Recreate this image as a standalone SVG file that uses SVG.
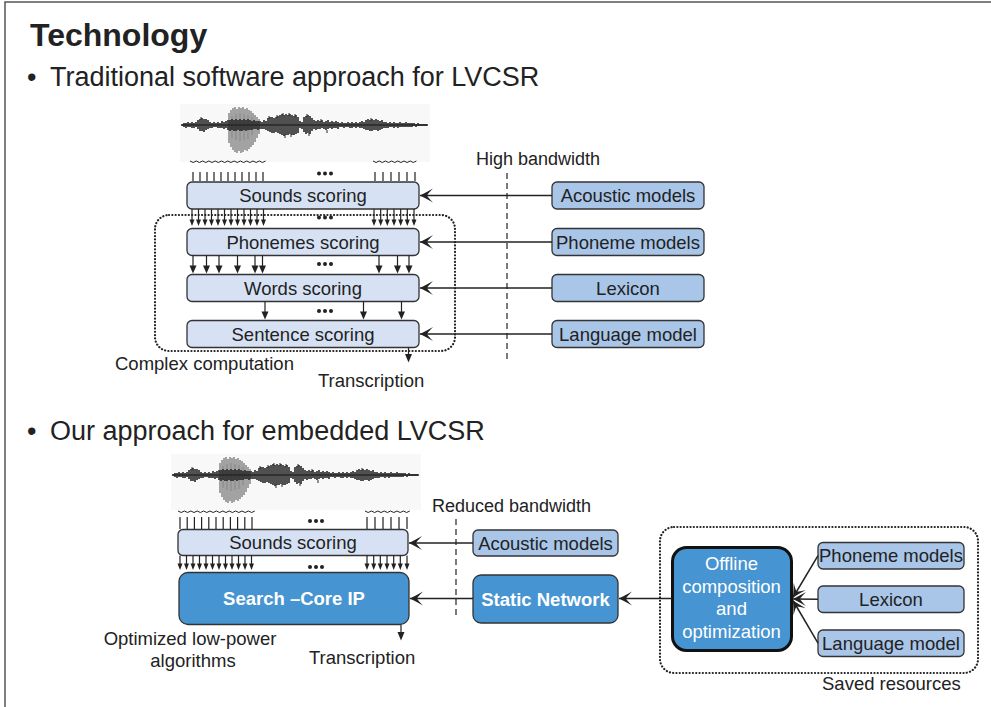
<svg xmlns="http://www.w3.org/2000/svg" width="991" height="707" viewBox="0 0 991 707">
<style>
  text { font-family: "Liberation Sans", Arial, sans-serif; fill: #222; }
  .lbl { font-size: 18.5px; text-anchor: middle; }
  .note { font-size: 18.5px; }
  .lite rect { fill: #d6e2f4; stroke: #333; stroke-width: 1.3; }
  .mid rect { fill: #a9c6e9; stroke: #333; stroke-width: 1.3; }
  .dark rect { fill: #4694d1; stroke: #333; stroke-width: 1.3; }
  .dark text { fill: #fff; }
  .bold { font-weight: bold; }
  .conn { stroke: #222; stroke-width: 1.5; fill: none; }
  .stem { stroke: #222; stroke-width: 1.2; fill: none; }
  .head { fill: #222; stroke: none; }
  .wavy { stroke: #222; stroke-width: 1; fill: none; }
  .dotbox { fill: none; stroke: #222; stroke-width: 2.2; stroke-dasharray: 0.1 3.2; stroke-linecap: round; }
  .dash { stroke: #222; stroke-width: 1.2; stroke-dasharray: 6 4; }
  .dots circle { fill: #222; }
</style>
<defs>
  <marker id="barb" markerUnits="userSpaceOnUse" viewBox="-15 -8 16 16" refX="0" refY="0" markerWidth="16" markerHeight="16" orient="auto">
    <path d="M0,0 Q-6,-3 -13,-7 Q-8,-2 -7,0 Q-8,2 -13,7 Q-6,3 0,0 Z" fill="#222"/>
  </marker>
  <!-- speech waveform, drawn around a horizontal centre line at y=0 -->
  <g id="wave">
    <path d="M50,-9v22M54,-11v26M58,-12v28M62,-11v26M66,-10v24M70,-8v18" stroke="#b0b0b0" stroke-width="0.7" fill="none"/>
    <path d="M47,-12v30M49,-15v37M51,-17v42M53,-18v45M55,-16v44M57,-18v44M59,-17v45M61,-18v45M63,-16v41M65,-17v43M67,-15v39M69,-14v36M71,-12v32M73,-10v27M75,-8v21M77,-6v15" stroke="#3a3a3a" stroke-width="0.9" fill="none"/>
    <path d="M0,0H246" stroke="#2b2b2b" stroke-width="1.5"/>
    <path d="M0,-1v2M2,-2v4M4,-2v5M6,-3v5M8,-2v4M10,-3v6M12,-2v5M14,-3v5M16,-5v9M18,-6v12M20,-7v13M22,-6v13M24,-6v11M26,-5v9M28,-3v6M30,-2v5M32,-3v5M34,-2v4M36,-3v6M38,-2v5M40,-4v7M42,-3v7M44,-4v7M46,-5v10M48,-5v11M50,-6v11M52,-5v11M54,-6v12M56,-5v10M58,-6v12M60,-5v11M62,-6v11M64,-5v11M66,-6v11M68,-5v10M70,-4v9M72,-5v9M74,-4v8M76,-4v9M78,-4v8M80,-3v7M82,-5v9M84,-4v9M86,-7v13M88,-8v15M90,-8v16M92,-7v15M94,-8v15M96,-9v17M98,-10v19M100,-11v21M102,-10v21M104,-11v21M106,-10v20M108,-11v20M110,-10v20M112,-9v19M114,-10v19M116,-8v16M118,-4v7M120,-3v7M122,-8v15M124,-9v18M126,-10v18M128,-9v18M130,-7v13M132,-5v9M134,-4v9M136,-5v9M138,-4v8M140,-5v8M142,-3v7M144,-4v9M146,-5v9M148,-3v6M150,-4v8M152,-3v6M154,-4v7M156,-3v7M158,-2v4M160,-3v5M162,-2v5M164,-2v4M166,-3v5M168,-2v5M170,-3v6M172,-2v4M174,-3v6M176,-2v4M178,-3v6M180,-4v7M182,-3v7M184,-5v10M186,-6v11M188,-5v11M190,-6v12M192,-5v10M194,-6v11M196,-5v11M198,-4v9M200,-5v9M202,-3v6M204,-3v6M206,-2v5M208,-3v5M210,-2v4M212,-3v6M214,-2v4M216,-2v5M218,-3v5M220,-2v4M222,-2v4M224,-3v5M226,-2v4M228,-2v4M230,-2v4M232,-2v3M234,-1v3M236,-2v3M238,-1v2M240,-1v2M242,-1v2M244,-1v2" stroke="#262626" stroke-width="1.6" fill="none"/>
    <path d="M87,-9v3M95,-10v3M101,-12v3M107,-12v3M113,-11v3M125,-11v3M103,9v4M109,9v3M127,8v3M19,-8v3M189,-7v3M139,-6v3M145,5v3" stroke="#262626" stroke-width="1" fill="none"/>
  </g>
</defs>

<rect width="991" height="707" fill="#fff"/>
<!-- slide frame edges -->
<path d="M5,707V2H991" fill="none" stroke="#555" stroke-width="1.5"/>

<g id="title">
  <text x="30" y="46" font-size="32" font-weight="bold">Technology</text>
</g>
<g id="heading-traditional">
  <text x="27" y="86" font-size="27">•</text>
  <text x="50" y="86" font-size="27">Traditional software approach for LVCSR</text>
</g>
<g id="heading-embedded">
  <text x="27" y="440" font-size="27">•</text>
  <text x="50" y="440" font-size="27">Our approach for embedded LVCSR</text>
</g>

<!-- upper waveform and framing ticks -->
<g id="waveform-1">
  <rect x="180" y="104" width="250" height="58" fill="#f8f8f8"/>
  <use href="#wave" x="182" y="125"/>
  <path class="wavy" d="M190,161q3.15,3 6.3,0q3.15,3 6.3,0q3.15,3 6.3,0q3.15,3 6.3,0q3.15,3 6.3,0q3.15,3 6.3,0q3.15,3 6.3,0q3.15,3 6.3,0q3.15,3 6.3,0q3.15,3 6.3,0q3.15,3 6.3,0q3.15,3 6.3,0M373,161q3.1,3 6.2,0q3.1,3 6.2,0q3.1,3 6.2,0q3.1,3 6.2,0q3.1,3 6.2,0q3.1,3 6.2,0q3.1,3 6.2,0"/>
  <path class="stem" d="M193,172v9M200,172v9M207,172v9M214,172v9M221,172v9M228,172v9M235,172v9M242,172v9M249,172v9M256,172v9M263,172v9M375,172v9M383,172v9M391,172v9M399,172v9M407,172v9M415,172v9"/>
  <g class="dots"><circle cx="319" cy="173.5" r="2"/><circle cx="325" cy="173.5" r="2"/><circle cx="331" cy="173.5" r="2"/></g>
</g>

<!-- lower waveform and framing ticks -->
<g id="waveform-2">
  <rect x="171" y="454" width="250" height="56" fill="#f8f8f8"/>
  <use href="#wave" x="173" y="475"/>
  <path class="wavy" d="M178,511q3.2,3 6.4,0q3.2,3 6.4,0q3.2,3 6.4,0q3.2,3 6.4,0q3.2,3 6.4,0q3.2,3 6.4,0q3.2,3 6.4,0q3.2,3 6.4,0q3.2,3 6.4,0q3.2,3 6.4,0q3.2,3 6.4,0q3.2,3 6.4,0M365,511q3.2,3 6.4,0q3.2,3 6.4,0q3.2,3 6.4,0q3.2,3 6.4,0q3.2,3 6.4,0q3.2,3 6.4,0q3.2,3 6.4,0"/>
  <path class="stem" d="M180,517v12M187.2,517v12M194.4,517v12M201.6,517v12M208.8,517v12M216,517v12M223.2,517v12M230.4,517v12M237.6,517v12M244.8,517v12M252,517v12M367,517v12M375,517v12M383,517v12M391,517v12M399,517v12M407,517v12"/>
  <g class="dots"><circle cx="310" cy="521" r="2"/><circle cx="316" cy="521" r="2"/><circle cx="322" cy="521" r="2"/></g>
</g>

<!-- grouping outlines and bandwidth separators -->
<g id="complex-computation">
  <rect class="dotbox" x="155" y="215" width="300" height="136" rx="14"/>
  <text class="note" x="115" y="370">Complex computation</text>
</g>
<g id="saved-resources">
  <rect class="dotbox" x="660" y="527" width="318" height="146" rx="14"/>
  <text class="note" x="822" y="690">Saved resources</text>
</g>
<g id="high-bandwidth">
  <line class="dash" x1="507" y1="173" x2="507" y2="361"/>
  <text x="476" y="165" font-size="18">High bandwidth</text>
</g>
<g id="reduced-bandwidth">
  <line class="dash" x1="456" y1="519" x2="456" y2="618"/>
  <text x="432" y="512" font-size="18">Reduced bandwidth</text>
</g>

<!-- traditional pipeline -->
<g id="sounds-scoring-1" class="lite">
  <rect x="187" y="182" width="232" height="27" rx="5"/>
  <text class="lbl" x="303" y="202">Sounds scoring</text>
</g>
<g id="phonemes-scoring" class="lite">
  <rect x="187" y="228.5" width="232" height="27" rx="5"/>
  <text class="lbl" x="303" y="248.5">Phonemes scoring</text>
</g>
<g id="words-scoring" class="lite">
  <rect x="187" y="274.5" width="232" height="27" rx="5"/>
  <text class="lbl" x="303" y="294.5">Words scoring</text>
</g>
<g id="sentence-scoring" class="lite">
  <rect x="187" y="320.5" width="232" height="27" rx="5"/>
  <text class="lbl" x="303" y="340.5">Sentence scoring</text>
</g>
<g id="acoustic-models-1" class="mid">
  <rect x="552" y="182" width="152" height="27" rx="5"/>
  <text class="lbl" x="628" y="202">Acoustic models</text>
</g>
<g id="phoneme-models-1" class="mid">
  <rect x="552" y="228.5" width="152" height="27" rx="5"/>
  <text class="lbl" x="628" y="248.5">Phoneme models</text>
</g>
<g id="lexicon-1" class="mid">
  <rect x="552" y="274.5" width="152" height="27" rx="5"/>
  <text class="lbl" x="628" y="294.5">Lexicon</text>
</g>
<g id="language-model-1" class="mid">
  <rect x="552" y="320.5" width="152" height="27" rx="5"/>
  <text class="lbl" x="628" y="340.5">Language model</text>
</g>
<text class="note" x="318" y="387">Transcription</text>

<!-- embedded pipeline -->
<g id="sounds-scoring-2" class="lite">
  <rect x="178" y="529.5" width="230" height="26" rx="5"/>
  <text class="lbl" x="293" y="549">Sounds scoring</text>
</g>
<g id="search-core" class="dark">
  <rect x="179" y="572.5" width="230" height="52" rx="9"/>
  <text class="lbl bold" x="294" y="605">Search –Core IP</text>
</g>
<g id="acoustic-models-2" class="mid">
  <rect x="473" y="530" width="145" height="26" rx="5"/>
  <text class="lbl" x="545.5" y="549.5">Acoustic models</text>
</g>
<g id="static-network" class="dark">
  <rect x="473" y="575" width="145" height="48" rx="8"/>
  <text class="lbl bold" x="545.5" y="605.5">Static Network</text>
</g>
<g id="offline-composition" class="dark">
  <rect x="672.5" y="547.5" width="119" height="103" rx="14" style="stroke:#111;stroke-width:3"/>
  <text class="lbl" x="731.5" y="570">Offline</text>
  <text class="lbl" x="731.5" y="592.5">composition</text>
  <text class="lbl" x="731.5" y="615">and</text>
  <text class="lbl" x="731.5" y="637.5">optimization</text>
</g>
<g id="phoneme-models-2" class="mid">
  <rect x="818" y="542.5" width="146" height="26.5" rx="5"/>
  <text class="lbl" x="891" y="562.3">Phoneme models</text>
</g>
<g id="lexicon-2" class="mid">
  <rect x="818" y="586" width="146" height="26.5" rx="5"/>
  <text class="lbl" x="891" y="605.8">Lexicon</text>
</g>
<g id="language-model-2" class="mid">
  <rect x="818" y="630" width="146" height="26.5" rx="5"/>
  <text class="lbl" x="891" y="649.8">Language model</text>
</g>
<g id="notes-embedded">
  <text class="lbl" x="190" y="645">Optimized low-power</text>
  <text class="lbl" x="193" y="667">algorithms</text>
  <text class="note" x="309" y="664">Transcription</text>
</g>

<g id="connectors">
  <!-- sounds -> phonemes -->
  <path class="stem" d="M192,209v11M198.5,209v11M205,209v11M211.5,209v11M218,209v11M224.5,209v11M231,209v11M237.5,209v11M244,209v11M250.5,209v11M257,209v11M263.5,209v11M374,209v11M380.7,209v11M387.3,209v11M394,209v11M400.7,209v11M407.3,209v11M414,209v11"/>
  <path class="head" d="M189.5,219.5h5l-2.5,6.5zM196,219.5h5l-2.5,6.5zM202.5,219.5h5l-2.5,6.5zM209,219.5h5l-2.5,6.5zM215.5,219.5h5l-2.5,6.5zM222,219.5h5l-2.5,6.5zM228.5,219.5h5l-2.5,6.5zM235,219.5h5l-2.5,6.5zM241.5,219.5h5l-2.5,6.5zM248,219.5h5l-2.5,6.5zM254.5,219.5h5l-2.5,6.5zM261,219.5h5l-2.5,6.5zM371.5,219.5h5l-2.5,6.5zM378.2,219.5h5l-2.5,6.5zM384.8,219.5h5l-2.5,6.5zM391.5,219.5h5l-2.5,6.5zM398.2,219.5h5l-2.5,6.5zM404.8,219.5h5l-2.5,6.5zM411.5,219.5h5l-2.5,6.5z"/>
  <g class="dots"><circle cx="319" cy="217.5" r="2"/><circle cx="325" cy="217.5" r="2"/><circle cx="331" cy="217.5" r="2"/></g>
  <!-- phonemes -> words -->
  <path class="stem" d="M193,255.5v11M206.5,255.5v11M219,255.5v11M237.5,255.5v11M255,255.5v11M262.5,255.5v11M379,255.5v11M397.5,255.5v11M409,255.5v11"/>
  <path class="head" d="M189.5,265.5h7l-3.5,8zM203,265.5h7l-3.5,8zM215.5,265.5h7l-3.5,8zM234,265.5h7l-3.5,8zM251.5,265.5h7l-3.5,8zM259,265.5h7l-3.5,8zM375.5,265.5h7l-3.5,8zM394,265.5h7l-3.5,8zM405.5,265.5h7l-3.5,8z"/>
  <g class="dots"><circle cx="319" cy="264" r="2"/><circle cx="325" cy="264" r="2"/><circle cx="331" cy="264" r="2"/></g>
  <!-- words -> sentence -->
  <path class="stem" d="M265,301.5v11M363.5,301.5v11M401.5,301.5v11"/>
  <path class="head" d="M261.5,311.5h7l-3.5,8zM360,311.5h7l-3.5,8zM398,311.5h7l-3.5,8z"/>
  <g class="dots"><circle cx="319" cy="311" r="2"/><circle cx="325" cy="311" r="2"/><circle cx="331" cy="311" r="2"/></g>
  <!-- sentence -> transcription -->
  <path class="stem" d="M408.5,347.5v8"/>
  <path class="head" d="M405,354h7l-3.5,8.5z"/>
  <!-- models -> scoring stages -->
  <line class="conn" x1="552" y1="195.5" x2="420" y2="195.5" marker-end="url(#barb)"/>
  <line class="conn" x1="552" y1="242" x2="420" y2="242" marker-end="url(#barb)"/>
  <line class="conn" x1="552" y1="288" x2="420" y2="288" marker-end="url(#barb)"/>
  <line class="conn" x1="552" y1="334" x2="420" y2="334" marker-end="url(#barb)"/>

  <!-- sounds -> search core -->
  <path class="stem" d="M180,555.5v9M186.5,555.5v9M193,555.5v9M199.5,555.5v9M206,555.5v9M212.5,555.5v9M219,555.5v9M225.5,555.5v9M232,555.5v9M238.5,555.5v9M245,555.5v9M251.5,555.5v9M367,555.5v9M373.7,555.5v9M380.3,555.5v9M387,555.5v9M393.7,555.5v9M400.3,555.5v9M407,555.5v9"/>
  <path class="head" d="M177.5,563.5h5l-2.5,6.5zM184,563.5h5l-2.5,6.5zM190.5,563.5h5l-2.5,6.5zM197,563.5h5l-2.5,6.5zM203.5,563.5h5l-2.5,6.5zM210,563.5h5l-2.5,6.5zM216.5,563.5h5l-2.5,6.5zM223,563.5h5l-2.5,6.5zM229.5,563.5h5l-2.5,6.5zM236,563.5h5l-2.5,6.5zM242.5,563.5h5l-2.5,6.5zM249,563.5h5l-2.5,6.5zM364.5,563.5h5l-2.5,6.5zM371.2,563.5h5l-2.5,6.5zM377.8,563.5h5l-2.5,6.5zM384.5,563.5h5l-2.5,6.5zM391.2,563.5h5l-2.5,6.5zM397.8,563.5h5l-2.5,6.5zM404.5,563.5h5l-2.5,6.5z"/>
  <g class="dots"><circle cx="310" cy="567" r="2"/><circle cx="316" cy="567" r="2"/><circle cx="322" cy="567" r="2"/></g>
  <!-- search core -> transcription -->
  <path class="stem" d="M401,625v8"/>
  <path class="head" d="M397.5,632h7l-3.5,8.5z"/>
  <!-- resources -> embedded pipeline -->
  <line class="conn" x1="473" y1="543" x2="409" y2="543" marker-end="url(#barb)"/>
  <line class="conn" x1="473" y1="598.5" x2="410" y2="598.5" marker-end="url(#barb)"/>
  <line class="conn" x1="672" y1="598.5" x2="619" y2="598.5" marker-end="url(#barb)"/>
  <line class="conn" x1="818" y1="555.7" x2="793" y2="597.5" marker-end="url(#barb)"/>
  <line class="conn" x1="818" y1="599.2" x2="793" y2="599" marker-end="url(#barb)"/>
  <line class="conn" x1="818" y1="643.2" x2="793" y2="600.5" marker-end="url(#barb)"/>
</g>
</svg>
